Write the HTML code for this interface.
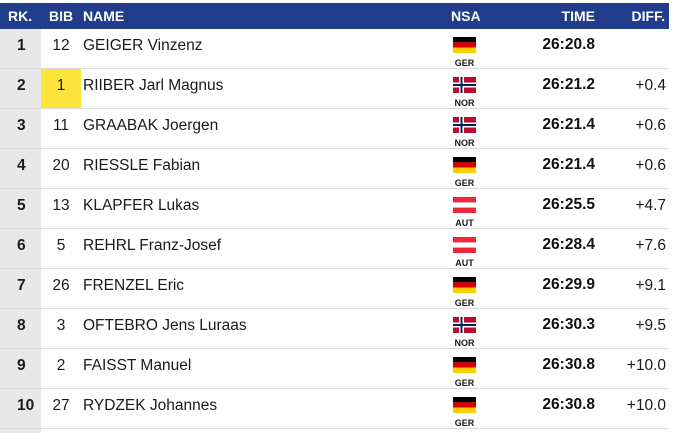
<!DOCTYPE html>
<html><head><meta charset="utf-8"><style>
*{margin:0;padding:0;box-sizing:border-box}
body{width:673px;height:433px;background:#fff;position:relative;overflow:hidden;font-family:"Liberation Sans",Arial,sans-serif;color:#1a1a1a}
.hdr{position:absolute;left:0;top:3px;width:669px;height:26px;background:#213d8c;color:#fff;font-weight:bold;font-size:14px;line-height:26px}
.hdr span{position:absolute;top:0}
.rkcol{position:absolute;left:0;top:29px;width:41px;height:404px;background:#e8e8e8}
.row{position:absolute;left:0;width:669px;height:40px;border-bottom:1px solid #dadada}
.row span{position:absolute;white-space:nowrap}
.rk{left:17px;top:8px;font-weight:bold;font-size:15.5px;line-height:18px}
.bib{left:41px;width:40px;top:0;height:39px;text-align:center;font-size:15.5px;line-height:18px;padding-top:8px}
.yel{background:#fde33a}
.nm{left:83px;top:8px;font-size:15.5px;line-height:18px}
.tm{right:74px;top:7px;font-weight:bold;font-size:15.5px;line-height:18px;color:#111}
.df{right:3px;top:8px;font-size:15.5px;line-height:18px}
.cc{left:444px;width:41px;text-align:center;top:29px;font-weight:bold;font-size:9px;line-height:10px}
.flag{left:453px;top:8px;width:23px;height:16px}
</style></head><body>
<div class="rkcol"></div>
<div class="hdr">
<span style="left:8px">RK.</span>
<span style="left:49px">BIB</span>
<span style="left:83px">NAME</span>
<span style="left:451px">NSA</span>
<span style="right:74px">TIME</span>
<span style="right:4px">DIFF.</span>
</div>

<div class="row" style="top:29px"><span class="rk">1</span><span class="bib">12</span><span class="nm">GEIGER Vinzenz</span>
<svg class="flag" style="position:absolute;left:453px;top:8px" width="23" height="16"><rect width="23" height="5.4" fill="#000"/><rect y="5.3" width="23" height="5.4" fill="#dd0000"/><rect y="10.6" width="23" height="5.4" fill="#ffce00"/></svg>
<span class="cc">GER</span><span class="tm">26:20.8</span><span class="df"></span></div>

<div class="row" style="top:69px"><span class="rk">2</span><span class="bib yel">1</span><span class="nm">RIIBER Jarl Magnus</span>
<svg style="position:absolute;left:453px;top:8px" width="23" height="16"><rect width="23" height="16" fill="#ba0c2f"/><rect x="6" width="5" height="16" fill="#fff"/><rect y="5.5" width="23" height="5" fill="#fff"/><rect x="7.5" width="2" height="16" fill="#00205b"/><rect y="7" width="23" height="2" fill="#00205b"/></svg>
<span class="cc">NOR</span><span class="tm">26:21.2</span><span class="df">+0.4</span></div>

<div class="row" style="top:109px"><span class="rk">3</span><span class="bib">11</span><span class="nm">GRAABAK Joergen</span>
<svg style="position:absolute;left:453px;top:8px" width="23" height="16"><rect width="23" height="16" fill="#ba0c2f"/><rect x="6" width="5" height="16" fill="#fff"/><rect y="5.5" width="23" height="5" fill="#fff"/><rect x="7.5" width="2" height="16" fill="#00205b"/><rect y="7" width="23" height="2" fill="#00205b"/></svg>
<span class="cc">NOR</span><span class="tm">26:21.4</span><span class="df">+0.6</span></div>

<div class="row" style="top:149px"><span class="rk">4</span><span class="bib">20</span><span class="nm">RIESSLE Fabian</span>
<svg style="position:absolute;left:453px;top:8px" width="23" height="16"><rect width="23" height="5.4" fill="#000"/><rect y="5.3" width="23" height="5.4" fill="#dd0000"/><rect y="10.6" width="23" height="5.4" fill="#ffce00"/></svg>
<span class="cc">GER</span><span class="tm">26:21.4</span><span class="df">+0.6</span></div>

<div class="row" style="top:189px"><span class="rk">5</span><span class="bib">13</span><span class="nm">KLAPFER Lukas</span>
<svg style="position:absolute;left:453px;top:8px" width="23" height="16"><rect width="23" height="16" fill="#fff"/><rect width="23" height="5.4" fill="#ed2939"/><rect y="10.6" width="23" height="5.4" fill="#ed2939"/></svg>
<span class="cc">AUT</span><span class="tm">26:25.5</span><span class="df">+4.7</span></div>

<div class="row" style="top:229px"><span class="rk">6</span><span class="bib">5</span><span class="nm">REHRL Franz-Josef</span>
<svg style="position:absolute;left:453px;top:8px" width="23" height="16"><rect width="23" height="16" fill="#fff"/><rect width="23" height="5.4" fill="#ed2939"/><rect y="10.6" width="23" height="5.4" fill="#ed2939"/></svg>
<span class="cc">AUT</span><span class="tm">26:28.4</span><span class="df">+7.6</span></div>

<div class="row" style="top:269px"><span class="rk">7</span><span class="bib">26</span><span class="nm">FRENZEL Eric</span>
<svg style="position:absolute;left:453px;top:8px" width="23" height="16"><rect width="23" height="5.4" fill="#000"/><rect y="5.3" width="23" height="5.4" fill="#dd0000"/><rect y="10.6" width="23" height="5.4" fill="#ffce00"/></svg>
<span class="cc">GER</span><span class="tm">26:29.9</span><span class="df">+9.1</span></div>

<div class="row" style="top:309px"><span class="rk">8</span><span class="bib">3</span><span class="nm">OFTEBRO Jens Luraas</span>
<svg style="position:absolute;left:453px;top:8px" width="23" height="16"><rect width="23" height="16" fill="#ba0c2f"/><rect x="6" width="5" height="16" fill="#fff"/><rect y="5.5" width="23" height="5" fill="#fff"/><rect x="7.5" width="2" height="16" fill="#00205b"/><rect y="7" width="23" height="2" fill="#00205b"/></svg>
<span class="cc">NOR</span><span class="tm">26:30.3</span><span class="df">+9.5</span></div>

<div class="row" style="top:349px"><span class="rk">9</span><span class="bib">2</span><span class="nm">FAISST Manuel</span>
<svg style="position:absolute;left:453px;top:8px" width="23" height="16"><rect width="23" height="5.4" fill="#000"/><rect y="5.3" width="23" height="5.4" fill="#dd0000"/><rect y="10.6" width="23" height="5.4" fill="#ffce00"/></svg>
<span class="cc">GER</span><span class="tm">26:30.8</span><span class="df">+10.0</span></div>

<div class="row" style="top:389px"><span class="rk">10</span><span class="bib">27</span><span class="nm">RYDZEK Johannes</span>
<svg style="position:absolute;left:453px;top:8px" width="23" height="16"><rect width="23" height="5.4" fill="#000"/><rect y="5.3" width="23" height="5.4" fill="#dd0000"/><rect y="10.6" width="23" height="5.4" fill="#ffce00"/></svg>
<span class="cc">GER</span><span class="tm">26:30.8</span><span class="df">+10.0</span></div>
</body></html>
